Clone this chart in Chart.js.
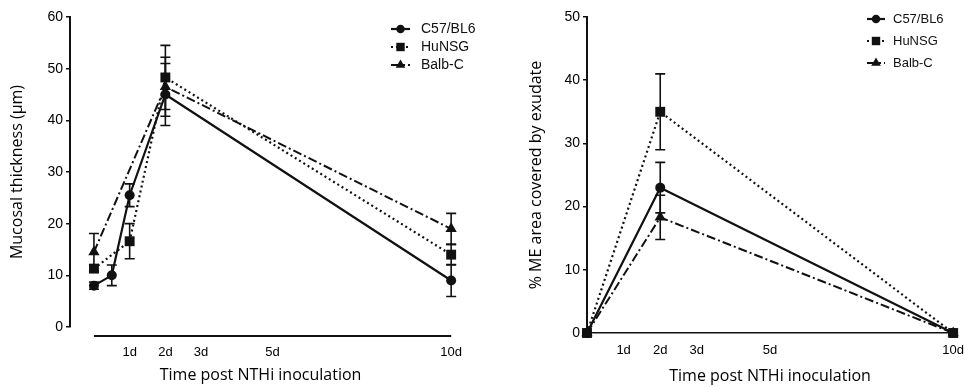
<!DOCTYPE html>
<html>
<head>
<meta charset="utf-8">
<script src="https://cdn.jsdelivr.net/npm/chart.js@4/dist/chart.umd.min.js"></script>
<style>
html, body { margin: 0; padding: 0; background: #fff; overflow: hidden; width: 964px; height: 387px; }
#wrapL { position: absolute; left: 0; top: 0; }
#wrapR { position: absolute; left: 480px; top: 0; }
</style>
</head>
<body>
<div id="wrapL"><canvas id="left" width="480" height="387"></canvas></div>
<div id="wrapR"><canvas id="right" width="494" height="387"></canvas></div>
<script>
// series names + x tick labels (days)
var seriesNames = ['C57/BL6', 'HuNSG', 'Balb-C'];
var xTickDays = [1, 2, 3, 5, 10];

// left panel: mucosal thickness (um)
var thickDaysC57 = [0, 0.5, 1, 2, 10];
var thickC57 = [8, 10, 25.5, 45, 9];
var thickC57Err = [0.7, 2, 2.2, 6, 3.1];
var thickDaysHu = [0, 1, 2, 10];
var thickHu = [11.3, 16.6, 48.3, 14];
var thickHuErr = [0.7, 3.4, 6.2, 2];
var thickDaysBalb = [0, 2, 10];
var thickBalb = [14.5, 46.5, 19];
var thickBalbErr = [3.6, 5.7, 3];

// right panel: % ME area covered by exudate
var exuDays = [0, 2, 10];
var exuC57 = [0, 23, 0];
var exuC57Err = [0, 4, 0];
var exuHu = [0, 35, 0];
var exuHuErr = [0, 6, 0];
var exuBalb = [0, 18.3, 0];
var exuBalbErr = [0, 3.5, 0];

var ink = '#111';
var styles = [
  { dash: [], pointStyle: 'circle', radius: 5, width: 2.2 },
  { dash: [2, 3], pointStyle: 'rect', radius: 7, width: 2.2 },
  { dash: [9, 3, 2, 3], pointStyle: 'triangle', radius: 6.5, width: 2 }
];

function pts(xs, ys) {
  return xs.map(function (x, i) { return { x: x, y: ys[i] }; });
}

function makeSets(list) {
  return list.map(function (s, i) {
    var st = styles[i];
    return {
      label: seriesNames[i],
      data: pts(s[0], s[1]),
      errors: s[2],
      borderColor: ink,
      backgroundColor: ink,
      borderWidth: st.width,
      borderDash: st.dash,
      pointStyle: st.pointStyle,
      pointRadius: st.radius,
      pointBackgroundColor: ink,
      pointBorderColor: ink,
      pointBorderWidth: 0,
      tension: 0,
      fill: false,
      clip: false
    };
  });
}

function marker(ctx, style, x, y, r) {
  ctx.beginPath();
  if (style === 'circle') {
    ctx.arc(x, y, r, 0, Math.PI * 2);
  } else if (style === 'rect') {
    var s = r * Math.SQRT1_2;
    ctx.rect(x - s, y - s, 2 * s, 2 * s);
  } else {
    ctx.moveTo(x, y - r);
    ctx.lineTo(x + r * 0.866, y + r * 0.5);
    ctx.lineTo(x - r * 0.866, y + r * 0.5);
    ctx.closePath();
  }
  ctx.fill();
}

var errorBars = {
  id: 'errorBars',
  afterDatasetsDraw: function (chart) {
    var ctx = chart.ctx, xs = chart.scales.x, ys = chart.scales.y;
    ctx.save();
    ctx.strokeStyle = ink;
    ctx.lineWidth = 1.6;
    ctx.setLineDash([]);
    chart.data.datasets.forEach(function (ds) {
      ds.data.forEach(function (p, i) {
        var e = ds.errors[i];
        if (!e) return;
        var x = xs.getPixelForValue(p.x);
        var y1 = ys.getPixelForValue(p.y - e), y2 = ys.getPixelForValue(p.y + e);
        ctx.beginPath();
        ctx.moveTo(x, y1); ctx.lineTo(x, y2);
        ctx.moveTo(x - 5, y1); ctx.lineTo(x + 5, y1);
        ctx.moveTo(x - 5, y2); ctx.lineTo(x + 5, y2);
        ctx.stroke();
      });
    });
    ctx.restore();
  }
};

var sideLegend = {
  id: 'sideLegend',
  afterDraw: function (chart, args, o) {
    var ctx = chart.ctx;
    ctx.save();
    chart.data.datasets.forEach(function (ds, i) {
      var y = o.y + i * o.dy;
      ctx.strokeStyle = ink;
      ctx.fillStyle = ink;
      ctx.lineWidth = ds.borderWidth;
      ctx.setLineDash(ds.borderDash);
      ctx.beginPath();
      ctx.moveTo(o.x, y); ctx.lineTo(o.x + o.len, y);
      ctx.stroke();
      ctx.setLineDash([]);
      marker(ctx, ds.pointStyle, o.x + o.len / 2, y, ds.pointRadius * 0.85);
      ctx.font = o.size + 'px "Liberation Sans", Arial, sans-serif';
      ctx.textBaseline = 'middle';
      ctx.fillText(ds.label, o.textX, y);
    });
    ctx.restore();
  }
};

// left panel has a detached x axis line, starting at day 0
var detachedAxis = {
  id: 'detachedAxis',
  afterDraw: function (chart, args, o) {
    if (!o.on) return;
    var ctx = chart.ctx, xs = chart.scales.x;
    var y = chart.chartArea.bottom + 9;
    ctx.save();
    ctx.strokeStyle = ink;
    ctx.lineWidth = 2;
    ctx.beginPath();
    ctx.moveTo(xs.getPixelForValue(0), y);
    ctx.lineTo(xs.getPixelForValue(10), y);
    ctx.stroke();
    ctx.restore();
  }
};

function makeChart(id, sets, cfg) {
  return new Chart(document.getElementById(id), {
    type: 'line',
    data: { datasets: sets },
    plugins: [errorBars, sideLegend, detachedAxis],
    options: {
      responsive: false,
      animation: false,
      layout: { padding: cfg.padding },
      plugins: {
        legend: { display: false },
        tooltip: { enabled: false },
        sideLegend: cfg.legend,
        detachedAxis: { on: cfg.detached }
      },
      scales: {
        x: {
          type: 'linear',
          min: cfg.xMin,
          max: 10,
          afterBuildTicks: function (s) {
            s.ticks = xTickDays.map(function (v) { return { value: v }; });
          },
          afterFit: function (s) { s.height = cfg.xHeight; },
          grid: { display: false, drawTicks: false, tickLength: 0 },
          border: { display: !cfg.detached, color: ink, width: 1.6 },
          ticks: {
            padding: cfg.xTickPad,
            color: '#000',
            maxRotation: 0,
            autoSkip: false,
            font: { family: '"Liberation Sans", Arial, sans-serif', size: 13 },
            callback: function (v) { return v + 'd'; }
          },
          title: {
            display: true,
            text: 'Time post NTHi inoculation',
            color: '#000',
            padding: { top: 0, bottom: cfg.xTitlePad },
            font: { family: '"Open Sans", sans-serif', size: 16 }
          }
        },
        y: {
          min: 0,
          max: cfg.yMax,
          afterFit: function (s) { s.width = cfg.yWidth; },
          grid: { drawOnChartArea: false, tickLength: 4, color: ink, lineWidth: 1.5 },
          border: { display: true, color: ink, width: 2 },
          ticks: {
            stepSize: 10,
            padding: 3,
            color: '#000',
            font: { family: '"Liberation Sans", Arial, sans-serif', size: 14 }
          },
          title: {
            display: true,
            text: cfg.yTitle,
            color: '#000',
            padding: { top: cfg.yTitlePad, bottom: 0 },
            font: { family: '"Open Sans", sans-serif', size: 16 }
          }
        }
      }
    }
  });
}

makeChart('left', makeSets([
  [thickDaysC57, thickC57, thickC57Err],
  [thickDaysHu, thickHu, thickHuErr],
  [thickDaysBalb, thickBalb, thickBalbErr]
]), {
  padding: { top: 17, right: 14, bottom: 0, left: 0 },
  xMin: -0.67, yMax: 60, yWidth: 70, xHeight: 60,
  xTickPad: 18, xTitlePad: 2, yTitlePad: 8, detached: true,
  yTitle: 'Mucosal thickness (\u00b5m)',
  legend: { x: 391, len: 19, textX: 421, y: 29, dy: 18, size: 14 }
});

makeChart('right', makeSets([
  [exuDays, exuC57, exuC57Err],
  [exuDays, exuHu, exuHuErr],
  [exuDays, exuBalb, exuBalbErr]
]), {
  padding: { top: 17, right: 17, bottom: 0, left: 0 },
  xMin: 0, yMax: 50, yWidth: 107, xHeight: 54,
  xTickPad: 10, xTitlePad: 1, yTitlePad: 47, detached: false,
  yTitle: '% ME area covered by exudate',
  legend: { x: 387, len: 18, textX: 413, y: 19, dy: 22, size: 13 }
});
</script>
</body>
</html>
